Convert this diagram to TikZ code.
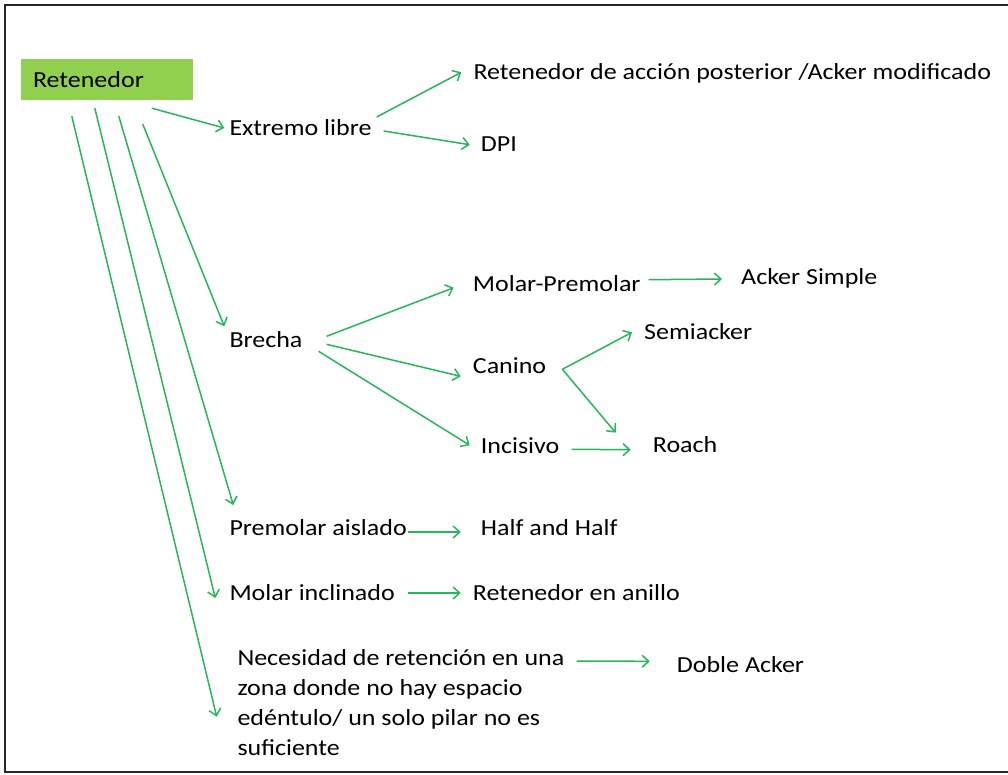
\documentclass[tikz,border=0pt]{standalone}
\usepackage{fontspec}
\setmainfont{Carlito}[FakeStretch=1.13]
\usetikzlibrary{arrows.meta}
\definecolor{leaf}{RGB}{146,208,80}
\definecolor{link}{RGB}{40,182,90}
\begin{document}
\begin{tikzpicture}[x=1pt,y=-1pt,
  lbl/.style={anchor=base west,inner sep=0pt,font=\fontsize{23}{30.3}\selectfont},
  rootbox/.style={fill=leaf,draw=none,minimum width=172pt,minimum height=41pt,
    inner xsep=12pt,inner ysep=0pt,text width=148pt,align=left,
    font=\fontsize{23}{28}\selectfont},
  arr/.style={draw=link,line width=1.5pt,
    -{Straight Barb[length=6.5pt,width=12pt,line width=1.5pt]}}]
\useasboundingbox (0,0) rectangle (1008,774);
% frame
\draw[line width=2pt,black!85] (1008,5) -- (5,5) -- (5,772) -- (1008,772);

% nodes
\node[rootbox] (ret) at (107,79.5) {Retenedor};
\node[lbl] (ext) at (229.3,135) {Extremo libre};
\node[lbl] (acc) at (473.3,79.3) {Retenedor de acción posterior /Acker modificado};
\node[lbl] (dpi) at (480.7,151.7) {DPI};
\node[lbl] (bre) at (229.3,347.3) {Brecha};
\node[lbl] (mpm) at (472.7,291.7) {Molar-Premolar};
\node[lbl] (aks) at (741,284) {Acker Simple};
\node[lbl] (semi) at (644,339.3) {Semiacker};
\node[lbl] (can) at (472.7,373.3) {Canino};
\node[lbl] (inc) at (480.7,453.3) {Incisivo};
\node[lbl] (roa) at (652.7,452.7) {Roach};
\node[lbl] (pre) at (229.3,535) {Premolar aislado};
\node[lbl] (hh) at (480.7,535) {Half and Half};
\node[lbl] (mol) at (229.3,600) {Molar inclinado};
\node[lbl] (ani) at (472.7,600) {Retenedor en anillo};
% multi-line node: its base is the baseline of the last line
\node[lbl,align=left] (nec) at (237.3,755.9) {Necesidad de retención en una\\zona donde no hay espacio\\edéntulo/ un solo pilar no es\\suficiente};
\node[lbl] (dob) at (676.7,672.3) {Doble Acker};

% connectors from the root
\draw[arr] ([shift={(131,8)}]ret.south west) -- ([shift={(-5,-7)}]ext.base west);
\draw[arr] ([shift={(122,24)}]ret.south west) -- ([shift={(-5,-21)}]bre.base west);
\draw[arr] ([shift={(98,16)}]ret.south west) -- ([shift={(4,-30)}]pre.base west);
\draw[arr] ([shift={(74,8)}]ret.south west) -- ([shift={(-14,-2)}]mol.base west);
\draw[arr] ([shift={(51,16)}]ret.south west) -- ([shift={(-20.6,-39.2)}]nec.base west);

% free end
\draw[arr] ([shift={(5,-18)}]ext.base east) -- ([shift={(-12,-7)}]acc.base west);
\draw[arr] ([shift={(12,-4)}]ext.base east) -- ([shift={(-11,-7)}]dpi.base west);

% gap
\draw[arr] ([shift={(24,-11)}]bre.base east) -- ([shift={(-19,-4)}]mpm.base west);
\draw[arr] ([shift={(24,-3)}]bre.base east) -- ([shift={(-12,3)}]can.base west);
\draw[arr] ([shift={(16,4)}]bre.base east) -- ([shift={(-11,-8)}]inc.base west);
\draw[arr] ([shift={(8,-12)}]mpm.base east) -- ([shift={(-19,-5)}]aks.base west);
\coordinate (fork) at ([shift={(16,-4)}]can.base east);
\draw[arr] (fork) -- ([shift={(-12,-7)}]semi.base west);
\draw[arr] (fork) -- ([shift={(-37,-20)}]roa.base west);
\draw[arr] ([shift={(12,-4)}]inc.base east) -- ([shift={(-22,-3)}]roa.base west);

% remaining cases
\draw[arr] ([shift={(1,-3)}]pre.base east) -- ([shift={(-20,-3)}]hh.base west);
\draw[arr] ([shift={(13,-7)}]mol.base east) -- ([shift={(-12,-7)}]ani.base west);
\draw[arr] ([shift={(339.4,-94.9)}]nec.base west) -- ([shift={(-27,-11)}]dob.base west);
\end{tikzpicture}
\end{document}
